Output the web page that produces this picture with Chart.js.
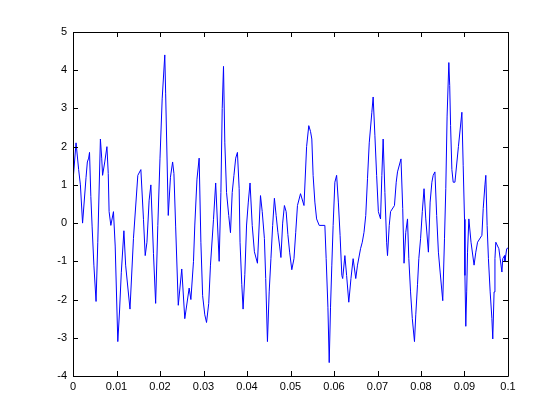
<!DOCTYPE html>
<html>
<head>
<meta charset="utf-8">
<script src="https://cdn.jsdelivr.net/npm/chart.js@4"></script>
<style>
  html, body { margin: 0; padding: 0; background: #fff; }
  #wrap { width: 560px; height: 420px; }
</style>
</head>
<body>
<div id="wrap"><canvas id="grafico" width="560" height="420"></canvas></div>
<script>
// tiempos (s) y valores
const tiempos = [
  0.0000, 0.0007, 0.0013, 0.0017, 0.0022, 0.0030, 0.0033, 0.0036, 0.0038, 0.0041,
  0.0044, 0.0048, 0.0053, 0.0057, 0.0063, 0.0066, 0.0068, 0.0073, 0.0078, 0.0081,
  0.0083, 0.0087, 0.0093, 0.0097, 0.0103, 0.0107, 0.0111, 0.0117, 0.0121, 0.0131,
  0.0139, 0.0149, 0.0156, 0.0162, 0.0166, 0.0170, 0.0175, 0.0179, 0.0185, 0.0190,
  0.0195, 0.0200, 0.0205, 0.0211, 0.0213, 0.0219, 0.0224, 0.0229, 0.0232, 0.0236,
  0.0242, 0.0250, 0.0257, 0.0267, 0.0271, 0.0277, 0.0280, 0.0285, 0.0290, 0.0294,
  0.0298, 0.0303, 0.0307, 0.0312, 0.0316, 0.0323, 0.0328, 0.0336, 0.0340, 0.0343,
  0.0346, 0.0349, 0.0353, 0.0358, 0.0362, 0.0366, 0.0370, 0.0374, 0.0378, 0.0382,
  0.0384, 0.0388, 0.0391, 0.0395, 0.0399, 0.0403, 0.0407, 0.0412, 0.0417, 0.0424,
  0.0431, 0.0435, 0.0440, 0.0443, 0.0447, 0.0451, 0.0455, 0.0459, 0.0463, 0.0467,
  0.0471, 0.0475, 0.0478, 0.0482, 0.0486, 0.0490, 0.0494, 0.0498, 0.0503, 0.0508,
  0.0512, 0.0516, 0.0523, 0.0531, 0.0537, 0.0542, 0.0546, 0.0549, 0.0552, 0.0556,
  0.0560, 0.0566, 0.0579, 0.0582, 0.0586, 0.0589, 0.0592, 0.0595, 0.0598, 0.0602,
  0.0606, 0.0610, 0.0614, 0.0618, 0.0620, 0.0625, 0.0629, 0.0634, 0.0639, 0.0644,
  0.0650, 0.0654, 0.0661, 0.0665, 0.0669, 0.0673, 0.0677, 0.0681, 0.0687, 0.0690,
  0.0694, 0.0698, 0.0702, 0.0707, 0.0710, 0.0713, 0.0717, 0.0721, 0.0723, 0.0727,
  0.0730, 0.0739, 0.0743, 0.0746, 0.0754, 0.0758, 0.0761, 0.0765, 0.0769, 0.0772,
  0.0776, 0.0780, 0.0785, 0.0788, 0.0792, 0.0795, 0.0799, 0.0803, 0.0807, 0.0811,
  0.0817, 0.0821, 0.0825, 0.0828, 0.0832, 0.0836, 0.0840, 0.0844, 0.0850, 0.0854,
  0.0857, 0.0860, 0.0864, 0.0866, 0.0868, 0.0871, 0.0874, 0.0878, 0.0886, 0.0894,
  0.0897, 0.0900, 0.0901, 0.0903, 0.0905, 0.0907, 0.0910, 0.0915, 0.0922, 0.0926,
  0.0930, 0.0940, 0.0943, 0.0947, 0.0949, 0.0952, 0.0955, 0.0959, 0.0963, 0.0965,
  0.0968, 0.0970, 0.0972, 0.0979, 0.0982, 0.0986, 0.0988, 0.0992, 0.0993, 0.0997,
  0.1000
];
const valores = [
  1.10, 2.10, 1.40, 1.00, 0.00, 1.20, 1.60, 1.70, 1.85, 0.70,
  -0.10, -1.10, -2.05, -0.50, 2.20, 1.70, 1.25, 1.60, 2.00, 1.30,
  0.30, -0.06, 0.30, -0.60, -3.10, -2.30, -1.30, -0.20, -1.10, -2.25,
  -0.40, 1.25, 1.40, 0.10, -0.85, -0.50, 0.60, 1.00, -0.80, -2.10,
  -0.06, 1.70, 3.25, 4.40, 3.40, 0.20, 1.20, 1.60, 1.30, -0.10,
  -2.15, -1.20, -2.50, -1.70, -2.00, -1.00, -0.05, 1.15, 1.70, -0.50,
  -1.90, -2.40, -2.60, -2.10, -1.10, 0.10, 1.05, -1.00, 0.80, 3.00,
  4.10, 2.10, 0.80, 0.20, -0.25, 0.80, 1.25, 1.70, 1.85, 0.90,
  -0.50, -1.60, -2.25, -1.35, -0.05, 0.55, 1.05, -0.06, -0.75, -1.05,
  0.72, 0.30, -0.40, -1.45, -3.10, -1.80, -0.93, -0.06, 0.65, 0.20,
  -0.24, -0.60, -0.90, 0.00, 0.46, 0.30, -0.30, -0.76, -1.22, -0.93,
  -0.24, 0.46, 0.77, 0.46, 2.00, 2.55, 2.40, 2.20, 1.25, 0.55,
  0.11, -0.06, -0.06, -0.93, -2.20, -3.65, -2.20, -1.10, -0.06, 1.07,
  1.25, 0.55, -0.32, -1.37, -1.45, -0.85, -1.37, -2.07, -1.45, -0.93,
  -1.45, -1.10, -0.67, -0.50, -0.24, 0.20, 1.16, 2.10, 2.90, 3.30,
  2.30, 1.25, 0.30, 0.11, 1.25, 2.20, 0.80, -0.50, -0.85, -0.06,
  0.30, 0.46, 1.07, 1.34, 1.68, 0.38, -1.05, -0.24, 0.11, -0.93,
  -1.80, -2.50, -3.10, -2.40, -1.60, -0.93, -0.41, 0.30, 0.90, 0.11,
  -0.76, 0.55, 1.07, 1.25, 1.34, 0.20, -0.76, -1.28, -2.03, -0.41,
  0.90, 2.80, 4.20, 3.60, 2.55, 1.40, 1.07, 1.07, 2.00, 2.90,
  1.50, 0.10, -1.37, -2.70, -1.80, -0.76, 0.11, -0.50, -1.10, -0.76,
  -0.50, -0.32, 0.38, 1.00, 1.25, -0.06, -0.93, -1.80, -2.50, -3.03,
  -1.80, -0.93, -0.50, -0.67, -0.93, -1.28, -0.93, -0.85, -1.00, -0.67,
  -0.65
];
const ticksX = [0, 0.01, 0.02, 0.03, 0.04, 0.05, 0.06, 0.07, 0.08, 0.09, 0.1];
const ticksY = [-4, -3, -2, -1, 0, 1, 2, 3, 4, 5];

const puntos = tiempos.map((t, i) => ({ x: t, y: valores[i] }));

// caja y marcas hacia adentro como en matlab
const cajaMatlab = {
  id: 'cajaMatlab',
  afterDraw(chart) {
    const ctx = chart.ctx;
    const a = chart.chartArea;
    const sx = chart.scales.x, sy = chart.scales.y;
    const largo = 5;
    ctx.save();
    ctx.strokeStyle = '#000';
    ctx.lineWidth = 1;
    ctx.beginPath();
    ctx.rect(Math.round(a.left) + 0.5, Math.round(a.top) + 0.5,
             Math.round(a.right - a.left), Math.round(a.bottom - a.top));
    ticksX.forEach(v => {
      const px = Math.round(sx.getPixelForValue(v)) + 0.5;
      ctx.moveTo(px, a.bottom); ctx.lineTo(px, a.bottom - largo);
      ctx.moveTo(px, a.top); ctx.lineTo(px, a.top + largo);
    });
    ticksY.forEach(v => {
      const py = Math.round(sy.getPixelForValue(v)) + 0.5;
      ctx.moveTo(a.left, py); ctx.lineTo(a.left + largo, py);
      ctx.moveTo(a.right, py); ctx.lineTo(a.right - largo, py);
    });
    ctx.stroke();
    ctx.restore();
  }
};

const fuente = { family: '"Liberation Sans", Arial, Helvetica, sans-serif', size: 11 };

new Chart(document.getElementById('grafico').getContext('2d'), {
  type: 'line',
  data: {
    datasets: [{
      data: puntos,
      borderColor: 'rgb(0, 0, 255)',
      borderWidth: 1,
      pointRadius: 0,
      tension: 0,
      fill: false
    }]
  },
  options: {
    responsive: false,
    animation: false,
    layout: { padding: { left: 0, top: 32, right: 52, bottom: 0 } },
    plugins: { legend: { display: false }, tooltip: { enabled: false } },
    scales: {
      x: {
        type: 'linear',
        min: 0, max: 0.1,
        afterFit: s => { s.height = 44; },
        afterBuildTicks: s => { s.ticks = ticksX.map(v => ({ value: v })); },
        grid: { display: false, drawTicks: false },
        border: { display: false },
        ticks: {
          color: '#000', font: fuente, padding: 4, maxRotation: 0, autoSkip: false,
          callback: v => String(Math.round(v * 100) / 100)
        }
      },
      y: {
        type: 'linear',
        min: -4, max: 5,
        afterFit: s => { s.width = 73; },
        afterBuildTicks: s => { s.ticks = ticksY.map(v => ({ value: v })); },
        grid: { display: false, drawTicks: false },
        border: { display: false },
        ticks: { color: '#000', font: fuente, padding: 6, autoSkip: false }
      }
    }
  },
  plugins: [cajaMatlab]
});
</script>
</body>
</html>
